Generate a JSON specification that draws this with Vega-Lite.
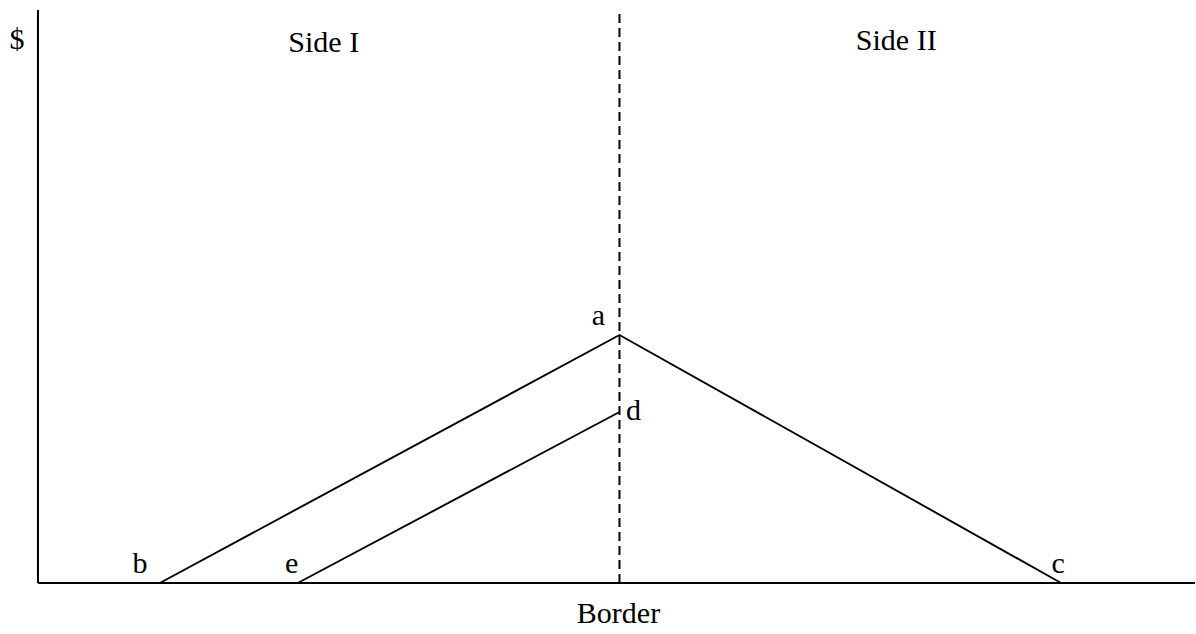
{
  "$schema": "https://vega.github.io/schema/vega-lite/v6.json",
  "width": 1196,
  "height": 634,
  "autosize": {"type": "fit", "contains": "padding"},
  "padding": 0,
  "background": "white",
  "config": {"view": {"stroke": null}},
  "datasets": {
    "rules": [
      {"name": "yaxis", "x": 0, "x2": 0, "y": 0, "y2": 573, "dash": "solid"},
      {"name": "xaxis", "x": 0, "x2": 1158, "y": 0, "y2": 0, "dash": "solid"},
      {"name": "border", "x": 582, "x2": 582, "y": 0, "y2": 573, "dash": "dashed"}
    ],
    "lines": [
      {"series": "bac", "order": 1, "x": 122, "y": 0},
      {"series": "bac", "order": 2, "x": 582, "y": 248},
      {"series": "bac", "order": 3, "x": 1024, "y": 0},
      {"series": "ed", "order": 1, "x": 260, "y": 0},
      {"series": "ed", "order": 2, "x": 582, "y": 171}
    ],
    "labels": [
      {"text": "$", "x": -21, "y": 534},
      {"text": "Side I", "x": 286, "y": 531},
      {"text": "Side II", "x": 859, "y": 533},
      {"text": "a", "x": 561, "y": 258},
      {"text": "d", "x": 596, "y": 163},
      {"text": "b", "x": 102, "y": 10},
      {"text": "e", "x": 254, "y": 10},
      {"text": "c", "x": 1021, "y": 10},
      {"text": "Border", "x": 581, "y": -40}
    ]
  },
  "layer": [
    {
      "data": {"name": "rules"},
      "mark": {"type": "rule", "color": "black", "strokeWidth": 2},
      "encoding": {
        "x": {"field": "x", "type": "quantitative", "scale": {"domain": [-38, 1158], "nice": false, "zero": false}, "axis": null},
        "x2": {"field": "x2"},
        "y": {"field": "y", "type": "quantitative", "scale": {"domain": [-51, 583], "nice": false, "zero": false}, "axis": null},
        "y2": {"field": "y2"},
        "strokeDash": {"field": "dash", "type": "nominal", "scale": {"domain": ["solid", "dashed"], "range": [[1, 0], [9, 5]]}, "legend": null}
      }
    },
    {
      "data": {"name": "lines"},
      "mark": {"type": "line", "color": "black", "strokeWidth": 1.9},
      "encoding": {
        "x": {"field": "x", "type": "quantitative", "scale": {"domain": [-38, 1158], "nice": false, "zero": false}, "axis": null},
        "y": {"field": "y", "type": "quantitative", "scale": {"domain": [-51, 583], "nice": false, "zero": false}, "axis": null},
        "detail": {"field": "series", "type": "nominal"},
        "order": {"field": "order", "type": "quantitative"}
      }
    },
    {
      "data": {"name": "labels"},
      "mark": {"type": "text", "font": "Liberation Serif", "fontSize": 30, "color": "black", "baseline": "alphabetic", "align": "center"},
      "encoding": {
        "x": {"field": "x", "type": "quantitative", "scale": {"domain": [-38, 1158], "nice": false, "zero": false}, "axis": null},
        "y": {"field": "y", "type": "quantitative", "scale": {"domain": [-51, 583], "nice": false, "zero": false}, "axis": null},
        "text": {"field": "text", "type": "nominal"}
      }
    }
  ]
}
